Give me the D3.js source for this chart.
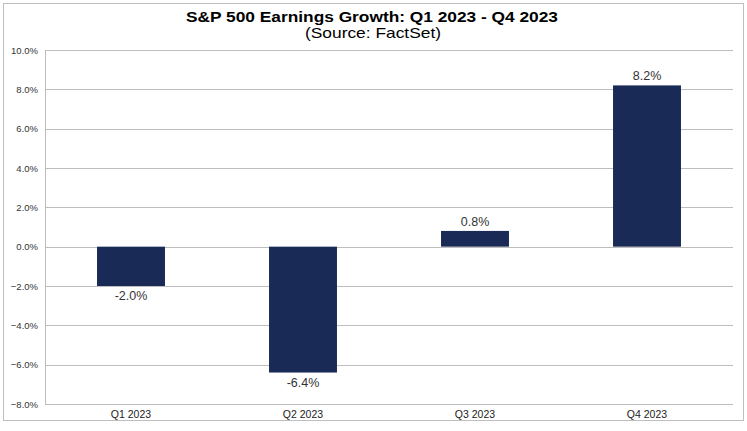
<!DOCTYPE html>
<html><head><meta charset="utf-8">
<script src="https://cdn.jsdelivr.net/npm/d3@7"></script>
<style>body{margin:0;background:#fff}svg{display:block}</style>
</head><body>
<script>
const categories = ["Q1 2023","Q2 2023","Q3 2023","Q4 2023"];
const values = [-2.0,-6.4,0.8,8.2];
const yTicks = [-8,-6,-4,-2,0,2,4,6,8,10];
const title = "S&P 500 Earnings Growth: Q1 2023 - Q4 2023";
const subtitle = "(Source: FactSet)";

const W=747,H=431;
const svg=d3.select("body").append("svg").attr("width",W).attr("height",H);
svg.append("rect").attr("x",3.5).attr("y",3.5).attr("width",740).attr("height",417)
  .attr("fill","#fff").attr("stroke","#bfbfbf").attr("stroke-width",1);

const L=45,R=733,T=50,B=404;
const x=d3.scaleBand().domain(categories).range([L,R]).paddingInner(0.605).paddingOuter(0.3025);
const y=d3.scaleLinear().domain([-8,10]).range([B,T]);

svg.append("text").attr("x",372).attr("y",22).attr("text-anchor","middle")
  .attr("font-family","Liberation Sans, Arial, sans-serif").attr("font-weight","bold").attr("font-size",15)
  .attr("textLength",372).attr("lengthAdjust","spacingAndGlyphs").attr("fill","#000").text(title);
svg.append("text").attr("x",373).attr("y",38).attr("text-anchor","middle")
  .attr("font-family","Liberation Sans, Arial, sans-serif").attr("font-size",14.5)
  .attr("textLength",136).attr("lengthAdjust","spacingAndGlyphs").attr("fill","#000").text(subtitle);

// gridlines
svg.append("g").selectAll("line").data(yTicks).join("line")
  .attr("x1",L).attr("x2",R).attr("y1",d=>Math.round(y(d))+0.5).attr("y2",d=>Math.round(y(d))+0.5)
  .attr("stroke","#bdbdbd").attr("stroke-width",1);
// left axis
svg.append("line").attr("x1",L+0.5).attr("x2",L+0.5).attr("y1",T).attr("y2",B+0.5).attr("stroke","#bdbdbd");

const yAxis=d3.axisLeft(y).tickValues(yTicks).tickSize(0).tickPadding(7).tickFormat(d=>d3.format(".1f")(d)+"%");
const ga=svg.append("g").attr("transform",`translate(${L},0)`).call(yAxis);
ga.select(".domain").remove();
ga.selectAll("text").attr("font-family","Liberation Sans, Arial, sans-serif").attr("font-size",9.5).attr("fill","#333");

const xAxis=d3.axisBottom(x).tickSize(0).tickPadding(7);
const gx=svg.append("g").attr("transform",`translate(0,${B})`).call(xAxis);
gx.select(".domain").remove();
gx.selectAll("text").attr("font-family","Liberation Sans, Arial, sans-serif").attr("font-size",10.5).attr("fill","#222");

svg.append("g").selectAll("rect").data(values).join("rect")
  .attr("x",(d,i)=>x(categories[i])).attr("width",x.bandwidth())
  .attr("y",d=>y(Math.max(0,d))).attr("height",d=>Math.abs(y(d)-y(0)))
  .attr("fill","#1a2a56");

svg.append("g").selectAll("text").data(values).join("text")
  .attr("x",(d,i)=>x(categories[i])+x.bandwidth()/2)
  .attr("y",d=>d>=0?y(d)-5:y(d)+14)
  .attr("text-anchor","middle").attr("font-family","Liberation Sans, Arial, sans-serif").attr("font-size",12.5).attr("fill","#333")
  .text(d=>d.toFixed(1)+"%");
</script>
</body></html>
